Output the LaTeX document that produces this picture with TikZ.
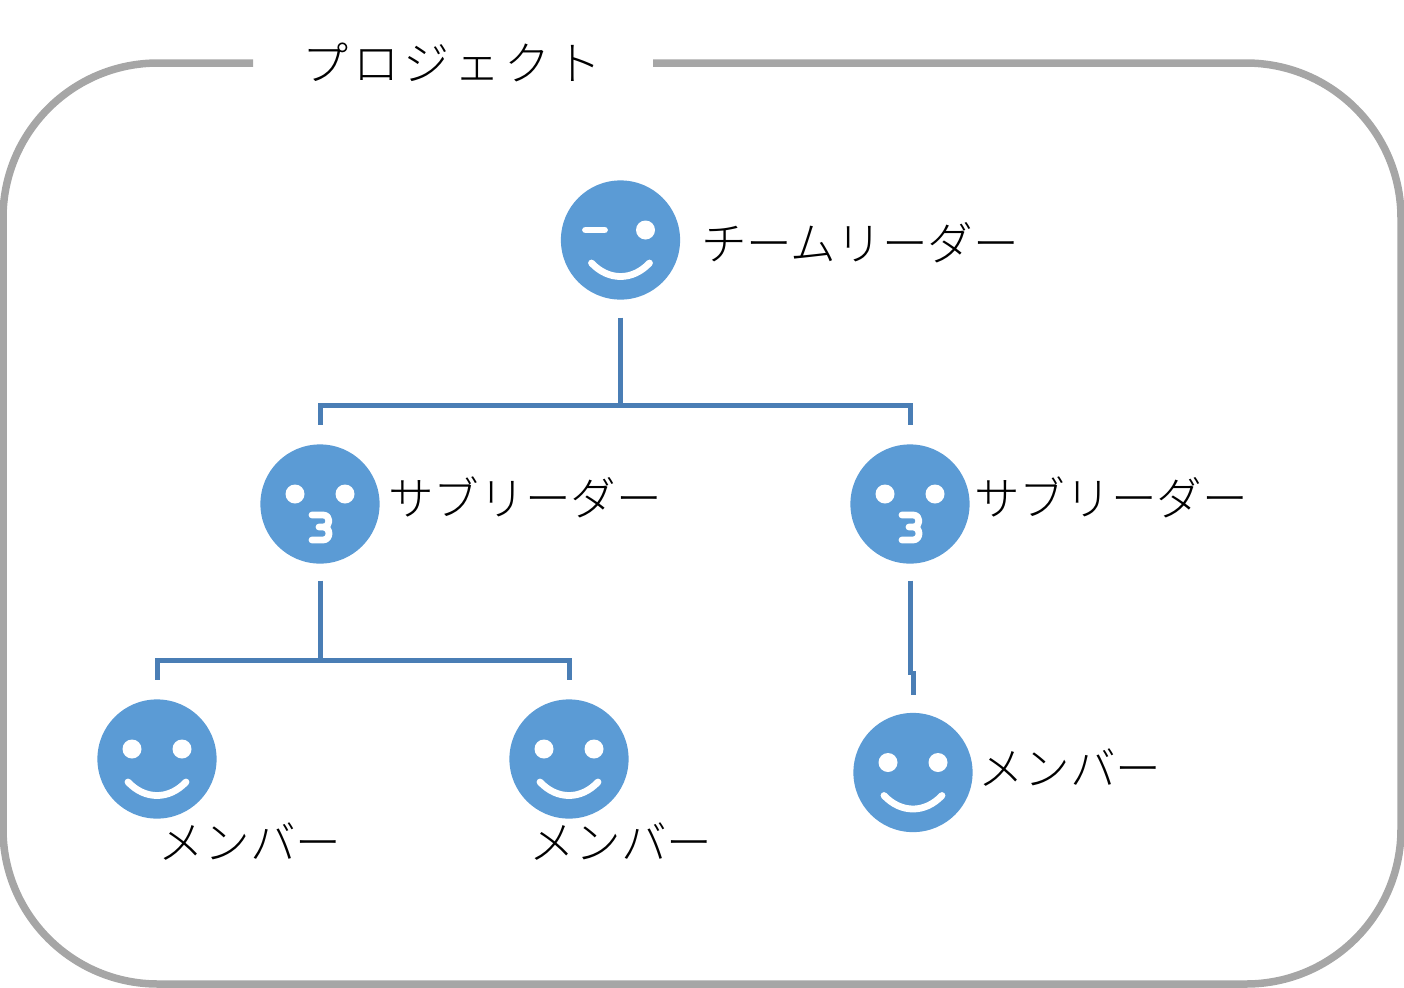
\documentclass[tikz,border=0pt]{standalone}
\usepackage{fontspec}
\newfontfamily\cjk{Noto Sans CJK JP Light}
\newfontfamily\cjktitle[LetterSpace=10]{Noto Sans CJK JP Light}
\definecolor{facecol}{HTML}{5B9BD5}
\definecolor{linkcol}{HTML}{4A7EB5}
\definecolor{framecol}{HTML}{A6A6A6}
\tikzset{
  x=0.5pt,y=-0.5pt,
  face/.style={circle,fill=facecol,draw=none,minimum size=59.6pt,inner sep=0pt,outer sep=0pt},
  link/.style={draw=linkcol,line width=2.5pt},
  frameline/.style={draw=framecol,line width=3.75pt,rounded corners=77.5pt},
  feature/.style={draw=white,line width=3.4pt,line cap=round,line join=round},
  eyedot/.style={fill=white,draw=none},
  lbl/.style={font=\cjk\fontsize{22.8pt}{27pt}\selectfont,text=black,inner sep=0pt},
  eyes/.pic={\fill[eyedot] (-25,-10) circle[radius=9.5] (25,-10) circle[radius=9.5];},
  smilemouth/.pic={\draw[feature] (-29,23) .. controls (-12,41) and (12,41) .. (29,23);},
  smileface/.pic={\pic{eyes};\pic{smilemouth};},
  winkface/.pic={\fill[eyedot] (25,-10) circle[radius=9.5];\draw[feature] (-35,-10) -- (-16,-10);\pic{smilemouth};},
  kissface/.pic={\pic{eyes};\draw[feature] (-8,11) -- (3,11) .. controls (11,11) and (11,23) .. (3,23) -- (-1,23) (3,23) .. controls (11,23) and (11,36) .. (3,36) -- (-8,36);},
}
\begin{document}
\begin{tikzpicture}
\useasboundingbox (0,0) rectangle (1404,987);
\draw[frameline] (253,63) -- (3,63) -- (3,984) -- (1401,984) -- (1401,63) -- (653,63);
\node[lbl,font=\cjktitle\fontsize{23pt}{27pt}\selectfont] (title) at (452,62) {プロジェクト};

\node[face] (leader) at (620.5,240) {};
\node[face] (subA) at (320,504) {};
\node[face] (subB) at (910,504) {};
\node[face] (memA) at (157,759) {};
\node[face] (memB) at (569,759) {};
\node[face] (memC) at (913,772.5) {};
\pic at (leader.center) {winkface};
\pic at (subA.center) {kissface};
\pic at (subB.center) {kissface};
\pic at (memA.center) {smileface};
\pic at (memB.center) {smileface};
\pic at (memC.center) {smileface};

\node[lbl] (leaderText) at (860,243) {チームリーダー};
\node[lbl] (subAText) at (525,497) {サブリーダー};
\node[lbl] (subBText) at (1111,497) {サブリーダー};
\node[lbl] (memAText) at (250,842) {メンバー};
\node[lbl] (memBText) at (621,842) {メンバー};
\node[lbl] (memCText) at (1070,768) {メンバー};

\coordinate (jTop) at (620.5,405);
\coordinate (jLeft) at (320,660);
\coordinate (bendUp) at (910,675);
\coordinate (bendDown) at (913,671);
\draw[link,shorten <=9pt] (leader) -- (jTop);
\draw[link,shorten >=9.5pt] (jTop) -| (subA);
\draw[link,shorten >=9.5pt] (jTop) -| (subB);
\draw[link,shorten <=8.5pt] (subA) -- (jLeft);
\draw[link,shorten >=9.5pt] (jLeft) -| (memA);
\draw[link,shorten >=9.5pt] (jLeft) -| (memB);
\draw[link,shorten <=8.5pt] (subB) -- (bendUp);
\draw[link,shorten >=9pt] (bendDown) -- (memC);
\end{tikzpicture}
\end{document}
